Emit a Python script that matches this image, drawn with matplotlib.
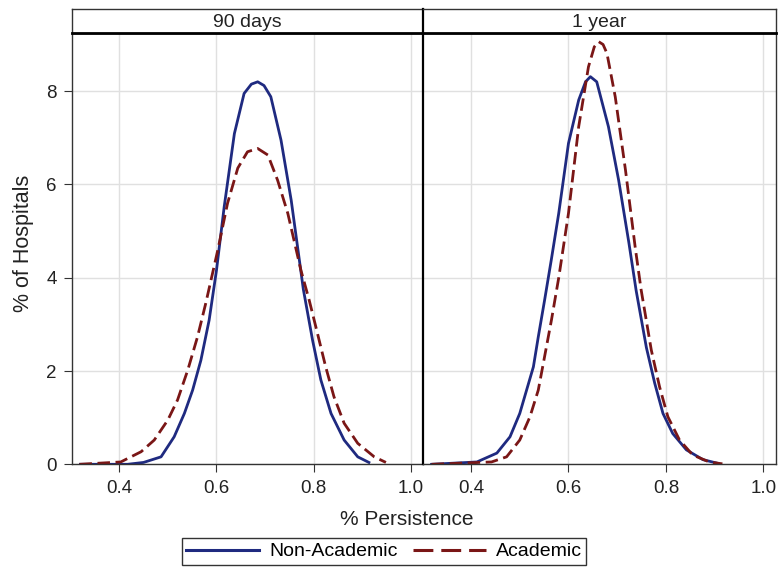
import matplotlib
matplotlib.use("Agg")
import matplotlib.pyplot as plt
from matplotlib.lines import Line2D

plt.rcParams['font.family'] = ['Liberation Sans', 'DejaVu Sans']

panels = ["90 days", "1 year"]

# 90 days
x90_non = [0.320, 0.417, 0.450, 0.486, 0.513, 0.534, 0.551, 0.568, 0.585, 0.600, 0.616, 0.637, 0.657,
           0.672, 0.685, 0.698, 0.712, 0.733, 0.754, 0.779, 0.798, 0.815, 0.836, 0.863, 0.891, 0.914]
y90_non = [0.0, 0.0, 0.04, 0.16, 0.59, 1.09, 1.59, 2.23, 3.09, 4.15, 5.52, 7.09, 7.95,
           8.15, 8.20, 8.12, 7.88, 6.95, 5.66, 3.75, 2.66, 1.81, 1.09, 0.52, 0.16, 0.04]
x90_aca = [0.318, 0.403, 0.445, 0.472, 0.500, 0.520, 0.541, 0.561, 0.578, 0.603, 0.623, 0.644, 0.664,
           0.685, 0.706, 0.726, 0.747, 0.774, 0.791, 0.808, 0.825, 0.842, 0.863, 0.891, 0.925, 0.949]
y90_aca = [0.0, 0.05, 0.27, 0.52, 0.95, 1.38, 2.02, 2.73, 3.45, 4.60, 5.60, 6.35, 6.70,
           6.77, 6.63, 6.09, 5.38, 4.16, 3.52, 2.81, 2.09, 1.45, 0.88, 0.45, 0.16, 0.04]

# 1 year
x1y_non = [0.319, 0.412, 0.453, 0.480, 0.500, 0.514, 0.528, 0.538, 0.551, 0.565, 0.580, 0.600, 0.621,
           0.635, 0.645, 0.658, 0.682, 0.703, 0.724, 0.739, 0.760, 0.777, 0.794, 0.814, 0.842, 0.876, 0.903]
y1y_non = [0.0, 0.05, 0.24, 0.59, 1.09, 1.59, 2.09, 2.73, 3.52, 4.40, 5.38, 6.88, 7.81,
           8.20, 8.31, 8.20, 7.24, 6.09, 4.75, 3.72, 2.50, 1.74, 1.09, 0.66, 0.31, 0.10, 0.03]
x1y_aca = [0.319, 0.442, 0.473, 0.500, 0.521, 0.538, 0.551, 0.565, 0.580, 0.600, 0.621, 0.641, 0.653,
           0.662, 0.671, 0.679, 0.696, 0.717, 0.737, 0.749, 0.770, 0.787, 0.804, 0.828, 0.855, 0.889, 0.916]
y1y_aca = [0.0, 0.05, 0.16, 0.52, 1.02, 1.59, 2.31, 3.09, 4.00, 5.38, 7.24, 8.52, 8.95,
           9.06, 9.00, 8.81, 7.88, 6.31, 4.65, 3.75, 2.45, 1.66, 1.02, 0.52, 0.20, 0.05, 0.01]

xticks = [0.4, 0.6, 0.8, 1.0]
xticklabels = ["0.4", "0.6", "0.8", "1.0"]
yticks = [0, 2, 4, 6, 8]

series = [
    [(x90_non, y90_non), (x90_aca, y90_aca)],
    [(x1y_non, y1y_non), (x1y_aca, y1y_aca)],
]
names = ["Non-Academic", "Academic"]
colors = ["#1f2a80", "#7a1616"]
styles = ["-", (0, (4.5, 2.0))]
legend_styles = ["-", (0, (6.5, 2.6))]

W, H = 783, 568
fig = plt.figure(figsize=(W / 100, H / 100), dpi=100)

left_px = [71.7, 423.3]
right_px = [423.3, 776.0]
top_px, bot_px = 33.3, 464.3
strip_top = 9.3

axes = []
for i in range(2):
    l = left_px[i] / W
    w = (right_px[i] - left_px[i]) / W
    b = 1 - bot_px / H
    h = (bot_px - top_px) / H
    ax = fig.add_axes([l, b, w, h])
    axes.append(ax)
    for (xs, ys), nm, c, ls in zip(series[i], names, colors, styles):
        ax.plot(xs, ys, color=c, linestyle=ls, lw=2.0, label=nm, solid_joinstyle='round')
    ax.set_xlim(0.302, 1.026)
    ax.set_ylim(0, 9.24)
    ax.set_xticks(xticks)
    ax.set_xticklabels(xticklabels)
    ax.set_yticks(yticks)
    ax.grid(True, color="#e0e0e0", lw=1.0)
    ax.set_axisbelow(True)
    for s in ax.spines.values():
        s.set_color("#333333")
        s.set_linewidth(1.0)
    ax.tick_params(axis='both', labelsize=13.5, color="#333333", length=5.8, labelcolor="#222222")
    ax.tick_params(axis='x', pad=5.5)
    ax.tick_params(axis='y', pad=5.0)
    if i == 1:
        ax.tick_params(axis='y', left=False, labelleft=False)
        ax.spines['left'].set_linewidth(1.6)
        ax.spines['left'].set_color("black")
    # strip
    sax = fig.add_axes([l, 1 - top_px / H, w, (top_px - strip_top) / H])
    sax.set_xticks([])
    sax.set_yticks([])
    for s in sax.spines.values():
        s.set_color("#333333")
        s.set_linewidth(1.0)
    sax.spines['bottom'].set_linewidth(2.0)
    sax.spines['bottom'].set_color("black")
    if i == 1:
        sax.spines['left'].set_linewidth(1.6)
        sax.spines['left'].set_color("black")
    sax.text(0.5, 0.47, panels[i], ha='center', va='center', fontsize=14, color="#222222",
             transform=sax.transAxes)

fig.text(407 / W, 1 - 525 / H, "% Persistence", ha='center', va='baseline', fontsize=15, color="#222222")
fig.text(23 / W, 1 - 243 / H, "% of Hospitals", ha='center', va='center', rotation=90,
         fontsize=15.5, color="#222222")

handles = [Line2D([], [], color=c, linestyle=ls, lw=2.2) for c, ls in zip(colors, legend_styles)]
leg = fig.legend(handles, names, loc='center', bbox_to_anchor=(384 / W, 1 - 551.5 / H), ncol=2,
                 frameon=True, fancybox=False, fontsize=14, handlelength=3.75, columnspacing=0.8,
                 borderpad=0.25, handletextpad=0.5, borderaxespad=0)
leg.get_frame().set_edgecolor("black")
leg.get_frame().set_linewidth(1.0)

fig.savefig("out.png", dpi=100)
